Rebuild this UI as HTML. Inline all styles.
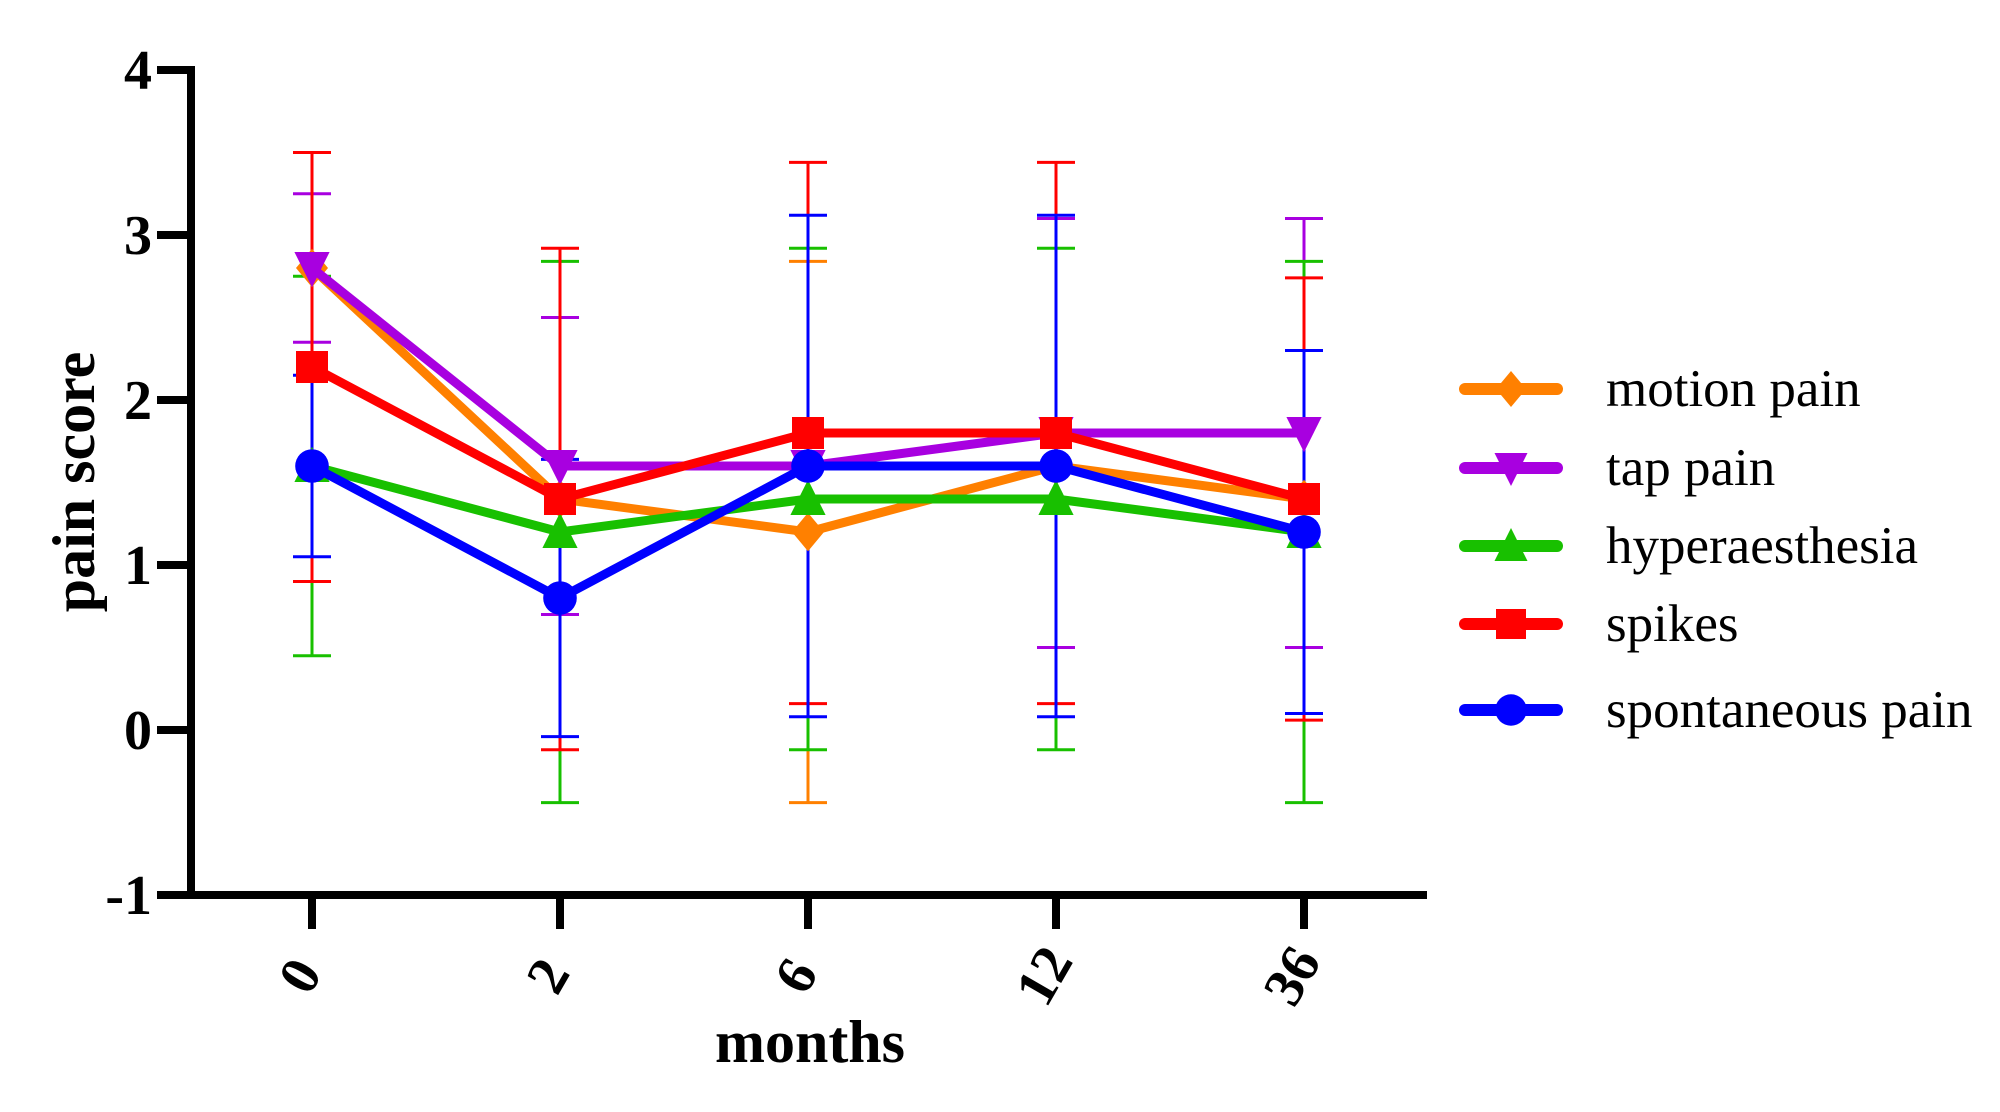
<!DOCTYPE html>
<html><head><meta charset="utf-8"><style>
html,body{margin:0;padding:0;background:#fff;}
svg{display:block;font-family:"Liberation Serif",serif;}
</style></head><body>
<svg id="chart" width="2000" height="1112" viewBox="0 0 2000 1112">
<g id="bars"></g>
<g id="lines"></g>
<g id="axes"></g>
<g id="legend"></g>
</svg>
<script>
const categories = ["0","2","6","12","36"];
const yTicks = [4,3,2,1,0,-1];
const seriesNames = ["motion pain","tap pain","hyperaesthesia","spikes","spontaneous pain"];
const motionMean = [2.8,1.4,1.2,1.6,1.4];
const motionSD = [0,0,1.64,0,0];
const tapMean = [2.8,1.6,1.6,1.8,1.8];
const tapSD = [0.45,0.9,0,1.3,1.3];
const hyperMean = [1.6,1.2,1.4,1.4,1.2];
const hyperSD = [1.15,1.64,1.52,1.52,1.64];
const spikesMean = [2.2,1.4,1.8,1.8,1.4];
const spikesSD = [1.3,1.52,1.64,1.64,1.34];
const spontMean = [1.6,0.8,1.6,1.6,1.2];
const spontSD = [0.55,0.84,1.52,1.52,1.1];

const NS="http://www.w3.org/2000/svg";
function el(tag,attrs,parent){const e=document.createElementNS(NS,tag);for(const k in attrs)e.setAttribute(k,attrs[k]);parent.appendChild(e);return e;}
const y0=70,y1=895,vMax=4,vMin=-1;
function yS(v){return y0+(vMax-v)/(vMax-vMin)*(y1-y0);}
const xFirst=312,xLast=1304;
function xS(i){return xFirst+i*(xLast-xFirst)/(categories.length-1);}

const series=[
 {name:seriesNames[0],mean:motionMean,sd:motionSD,color:"#ff8000",shape:"diamond"},
 {name:seriesNames[1],mean:tapMean,sd:tapSD,color:"#a800e0",shape:"down"},
 {name:seriesNames[2],mean:hyperMean,sd:hyperSD,color:"#18c000",shape:"up"},
 {name:seriesNames[3],mean:spikesMean,sd:spikesSD,color:"#ff0000",shape:"square"},
 {name:seriesNames[4],mean:spontMean,sd:spontSD,color:"#0000ff",shape:"circle"}
];
const bars=document.getElementById('bars'),lines=document.getElementById('lines'),axes=document.getElementById('axes'),legend=document.getElementById('legend');

function marker(shape,cx,cy,color,parent,s){
 let m;
 if(shape==="diamond") m=el('polygon',{points:`${cx},${cy-s*1.2} ${cx+s},${cy} ${cx},${cy+s*1.2} ${cx-s},${cy}`,fill:color},parent);
 else if(shape==="down") m=el('polygon',{points:`${cx-s*1.1},${cy-s} ${cx+s*1.1},${cy-s} ${cx},${cy+s*1.2}`,fill:color},parent);
 else if(shape==="up") m=el('polygon',{points:`${cx-s*1.1},${cy+s} ${cx+s*1.1},${cy+s} ${cx},${cy-s*1.2}`,fill:color},parent);
 else if(shape==="square") m=el('rect',{x:cx-s,y:cy-s,width:2*s,height:2*s,fill:color},parent);
 else m=el('circle',{cx:cx,cy:cy,r:s*1.05,fill:color},parent);
 return m;
}

series.forEach((s,si)=>{
 s.mean.forEach((m,i)=>{
  if(!s.sd[i])return;
  const x=xS(i),yt=yS(m+s.sd[i]),yb=yS(m-s.sd[i]);
  const g=el('g',{},bars);
  
  
  el('line',{x1:x,y1:yt,x2:x,y2:yb,stroke:s.color,'stroke-width':3},g);
  el('line',{x1:x-19,y1:yt,x2:x+19,y2:yt,stroke:s.color,'stroke-width':3},g);
  el('line',{x1:x-19,y1:yb,x2:x+19,y2:yb,stroke:s.color,'stroke-width':3},g);
 });
});
series.forEach((s,si)=>{
 const pts=s.mean.map((m,i)=>xS(i)+','+yS(m)).join(' ');
 const pl=el('polyline',{points:pts,fill:'none',stroke:s.color,'stroke-width':9,'stroke-linejoin':'round'},lines);
 
 
 s.mean.forEach((m,i)=>{
  const mk=marker(s.shape,xS(i),yS(m),s.color,lines,16);
  
  
 });
});

// axes
const yax=el('line',{x1:191,y1:y0-4,x2:191,y2:y1+4,stroke:'#000','stroke-width':8},axes);


const xax=el('line',{x1:187,y1:y1,x2:1427,y2:y1,stroke:'#000','stroke-width':8},axes);


yTicks.forEach(v=>{
 el('line',{x1:157,y1:yS(v),x2:191,y2:yS(v),stroke:'#000','stroke-width':8},axes);
 const t=el('text',{x:152,y:yS(v)+19,'text-anchor':'end','font-size':56,'font-weight':'bold'},axes);
 t.textContent=v;
 
 
});
categories.forEach((c,i)=>{
 const x=xS(i);
 el('line',{x1:x,y1:y1,x2:x,y2:929,stroke:'#000','stroke-width':8},axes);
 const t=el('text',{x:0,y:0,'text-anchor':'middle','font-size':56,'font-weight':'bold',transform:`translate(${x+4},${985}) rotate(-60)`},axes);
 t.textContent=c;
 
 
});
const xt=el('text',{x:810,y:1062,'text-anchor':'middle','font-size':60,'font-weight':'bold'},axes);
xt.textContent='months';


const yt=el('text',{x:0,y:0,'text-anchor':'middle','font-size':60,'font-weight':'bold',transform:'translate(94,482) rotate(-90)'},axes);
yt.textContent='pain score';



// legend
const legY=[389,468,546,624,710];
series.forEach((s,i)=>{
 const g=el('g',{},legend);
 
 
 el('line',{x1:1465,y1:legY[i],x2:1557,y2:legY[i],stroke:s.color,'stroke-width':12,'stroke-linecap':'round'},g);
 marker(s.shape,1511,legY[i],s.color,g,15);
 const t=el('text',{x:1606,y:legY[i]+17,'font-size':53},g);
 t.textContent=s.name;
});
</script>
</body></html>
